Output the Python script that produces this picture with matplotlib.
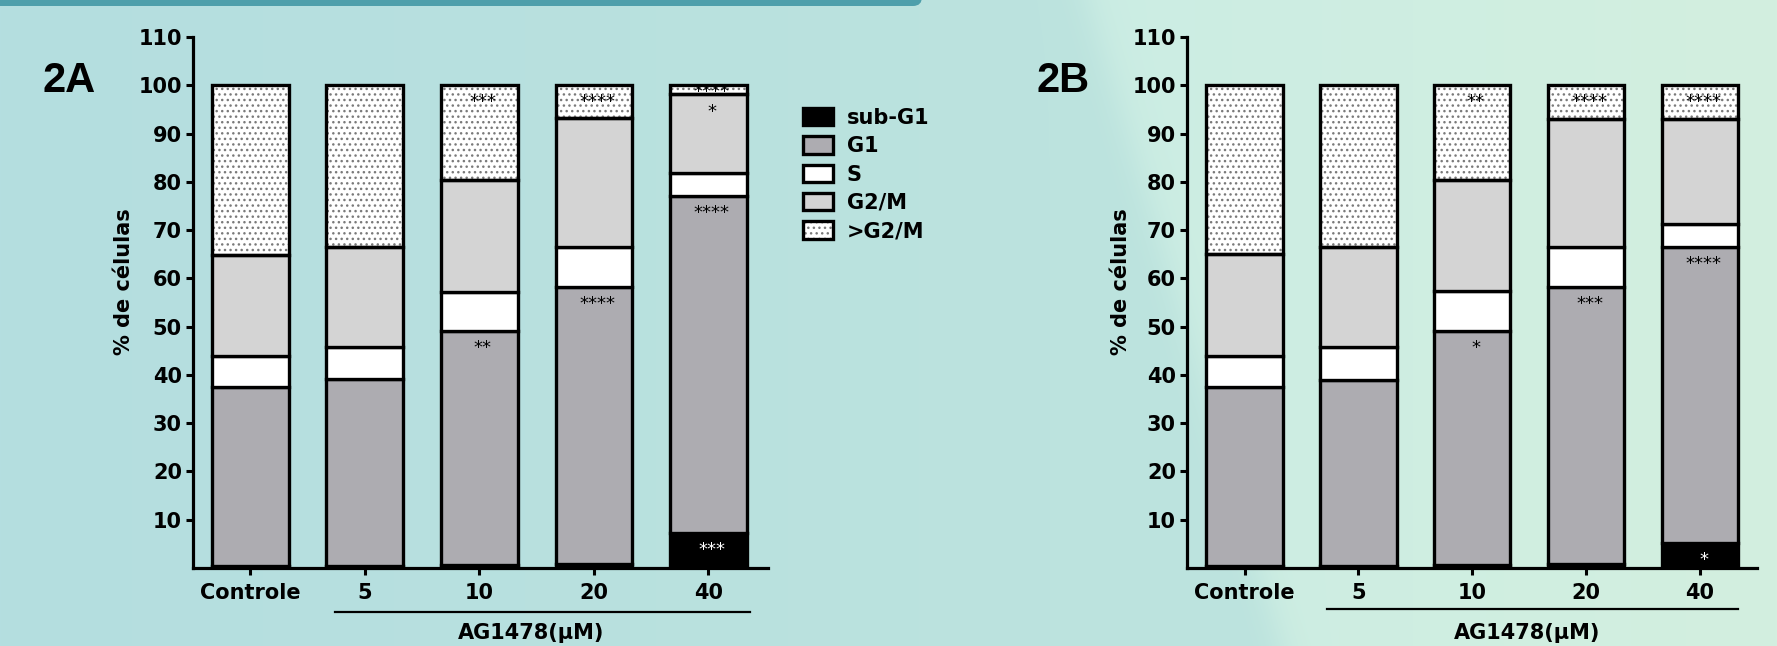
import numpy as np
import matplotlib
matplotlib.use("Agg")
import matplotlib.pyplot as plt
from matplotlib.patches import Patch, FancyBboxPatch
from matplotlib.legend_handler import HandlerTuple
from matplotlib.transforms import offset_copy, blended_transform_factory

# ---------------- data ----------------
categories = ["Controle", "5", "10", "20", "40"]
phases = ["sub-G1", "G1", "S", "G2/M", ">G2/M"]

A_subG1 = [0.5, 0.5, 0.6, 0.9, 7.2]
A_G1 = [36.9, 38.6, 48.5, 57.4, 69.8]
A_S = [6.5, 6.6, 8.1, 8.2, 4.9]
A_G2M = [21.0, 20.9, 23.1, 26.7, 16.2]
A_gtG2M = [35.1, 33.4, 19.7, 6.8, 1.9]

B_subG1 = [0.5, 0.5, 0.6, 0.8, 5.1]
B_G1 = [37.0, 38.5, 48.5, 57.5, 61.4]
B_S = [6.5, 6.7, 8.3, 8.3, 4.7]
B_G2M = [21.0, 20.8, 23.0, 26.5, 21.8]
B_gtG2M = [35.0, 33.5, 19.6, 6.9, 7.0]

# significance marks: (category index, phase index, text)
A_sig_cat = [2, 2, 3, 3, 4, 4, 4, 4]
A_sig_phase = [4, 1, 4, 1, 4, 3, 1, 0]
A_sig_text = ["***", "**", "****", "****", "****", "*", "****", "***"]

B_sig_cat = [2, 2, 3, 3, 4, 4, 4]
B_sig_phase = [4, 1, 4, 1, 4, 1, 0]
B_sig_text = ["**", "*", "****", "***", "****", "****", "*"]

yticks = [10, 20, 30, 40, 50, 60, 70, 80, 90, 100, 110]
group_label = "AG1478(μM)"
ylabel = "% de células"

# ---------------- style ----------------
W, H = 1777, 646
DPI = 100
fig = plt.figure(figsize=(W / DPI, H / DPI), dpi=DPI)

# background
bg = fig.add_axes([0, 0, 1, 1], zorder=-10)
xx = np.linspace(0, W, W)[None, :]
yy = np.linspace(0, H, H)[:, None]
left_a = np.array([180, 222, 224]) / 255.0
left_b = np.array([188, 227, 222]) / 255.0
right_a = np.array([203, 237, 228]) / 255.0
right_b = np.array([211, 239, 223]) / 255.0
tl = np.clip(xx / 1050.0, 0, 1)[..., None]
left_col = left_a * (1 - tl) + left_b * tl
tr = np.clip((xx - 1050) / 727.0, 0, 1)[..., None]
right_col = right_a * (1 - tr) + right_b * tr
boundary = 1088 + 0.3 * yy
s = 1 / (1 + np.exp(-(xx - boundary) / 10.0))
s = s[..., None]
img = left_col * (1 - s) + right_col * s
img = np.broadcast_to(img, (H, W, 3))
bg.imshow(img, extent=[0, W, H, 0], aspect="auto")
bg.set_xlim(0, W)
bg.set_ylim(H, 0)
bg.axis("off")
band = FancyBboxPatch((-30, -20), 952, 26, boxstyle="round,pad=0,rounding_size=9",
                      fc="#4e9fab", ec="none")
bg.add_patch(band)

colors = ["#000000", "#adacb1", "#ffffff", "#d4d4d4", "#ffffff"]
HATCH_C = "#7a7a7a"
LW = 2.4
BAR_W = 0.67


def draw_panel(ax, data, sig_cat, sig_phase, sig_text, line_y, label_y, label_x):
    x = np.arange(len(categories))
    bottom = np.zeros(len(categories))
    tops = []
    bottoms = []
    for i, vals in enumerate(data):
        vals = np.array(vals)
        if i == 4:
            ax.bar(x, vals, BAR_W, bottom=bottom, color="white", edgecolor=HATCH_C,
                   hatch="...", linewidth=0, zorder=2)
            ax.bar(x, vals, BAR_W, bottom=bottom, fill=False, edgecolor="black",
                   linewidth=LW, zorder=3)
        else:
            ax.bar(x, vals, BAR_W, bottom=bottom, color=colors[i], edgecolor="black",
                   linewidth=LW, zorder=3)
        bottoms.append(bottom.copy())
        bottom = bottom + vals
        tops.append(bottom.copy())

    tr = offset_copy(ax.transData, fig=fig, x=0, y=-11, units="dots")
    for c, p, t in zip(sig_cat, sig_phase, sig_text):
        top = tops[p][c]
        bot = bottoms[p][c]
        if top - bot < 4:
            yv = (top + bot) / 2
            trans = offset_copy(ax.transData, fig=fig, x=0, y=-7, units="dots")
        else:
            yv = top - 2.3
            trans = tr
        ax.text(c + 0.03, yv, t, ha="center", va="baseline", fontsize=13,
                color="white" if p == 0 else "black", transform=trans, zorder=5,
                family="DejaVu Sans")

    ax.set_ylim(0, 110)
    ax.set_yticks(yticks)
    ax.set_yticklabels([str(v) for v in yticks])
    ax.set_xticks(x)
    ax.set_xticklabels(categories)
    for sp in ["top", "right"]:
        ax.spines[sp].set_visible(False)
    for sp in ["left", "bottom"]:
        ax.spines[sp].set_linewidth(2.3)
    ax.tick_params(axis="both", length=5, width=2.2, labelsize=15, pad=3)
    ax.tick_params(axis="x", pad=6)
    for lab in ax.get_xticklabels() + ax.get_yticklabels():
        lab.set_fontweight("bold")
        lab.set_family("DejaVu Sans")
    ax.patch.set_alpha(0)

    bt = blended_transform_factory(ax.transData, ax.transAxes)
    ax.plot([line_y[0], line_y[1]], [line_y[2], line_y[2]], color="black", lw=1.6,
            transform=bt, clip_on=False)
    ax.text(label_x, label_y, group_label, ha="center", va="center", fontsize=15,
            fontweight="bold", transform=bt, family="DejaVu Sans")


def px_ax(x0, x1, y_top, y_bot):
    return [x0 / W, 1 - y_bot / H, (x1 - x0) / W, (y_bot - y_top) / H]


axA = fig.add_axes(px_ax(193, 768, 37, 568))
draw_panel(axA, [A_subG1, A_G1, A_S, A_G2M, A_gtG2M], A_sig_cat, A_sig_phase, A_sig_text,
           (0.74, 4.36, -0.083), -0.122, 2.45)
axA.set_xlim(-0.5, 4.52)

axB = fig.add_axes(px_ax(1187, 1757, 37, 568))
draw_panel(axB, [B_subG1, B_G1, B_S, B_G2M, B_gtG2M], B_sig_cat, B_sig_phase, B_sig_text,
           (0.72, 4.33, -0.077), -0.122, 2.48)
axB.set_xlim(-0.506, 4.5)

# y labels
fig.text(124 / W, 1 - 282 / H, ylabel, rotation=90, ha="center", va="center",
         fontsize=15, fontweight="bold", family="DejaVu Sans")
fig.text(1121 / W, 1 - 282 / H, ylabel, rotation=90, ha="center", va="center",
         fontsize=15, fontweight="bold", family="DejaVu Sans")

# panel titles
fig.text(42 / W, 1 - 92 / H, "2A", ha="left", va="baseline", fontsize=30,
         fontweight="bold", family="Liberation Sans")
fig.text(1037 / W, 1 - 92 / H, "2B", ha="left", va="baseline", fontsize=30,
         fontweight="bold", family="Liberation Sans")

# legend
handles = []
for i, ph in enumerate(phases):
    if i == 4:
        handles.append((Patch(facecolor="white", edgecolor=HATCH_C, hatch="...", linewidth=0),
                        Patch(fill=False, edgecolor="black", linewidth=LW)))
    else:
        handles.append(Patch(facecolor=colors[i], edgecolor="black", linewidth=LW))
leg = fig.legend(handles, phases, loc="upper left",
                 bbox_to_anchor=(803 / W, 1 - 108 / H), frameon=False,
                 handler_map={tuple: HandlerTuple(ndivide=1, pad=0)},
                 prop={"family": "DejaVu Sans", "weight": "bold", "size": 15},
                 handlelength=1.45, handleheight=0.9, handletextpad=0.65,
                 labelspacing=0.40, borderpad=0, borderaxespad=0)

fig.savefig("out.png", dpi=DPI)
